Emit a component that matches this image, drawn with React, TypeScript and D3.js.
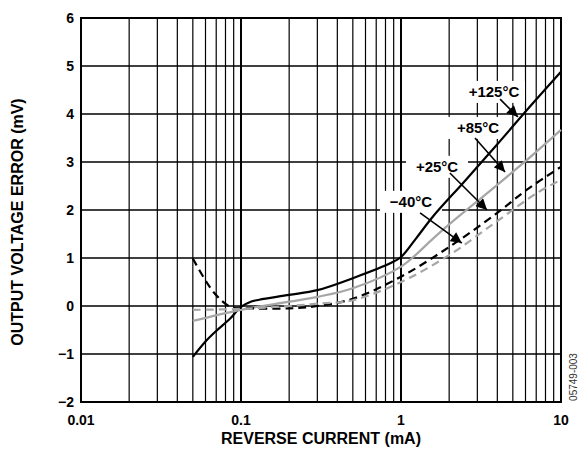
import * as d3 from 'd3';

// reverse current (mA) vs output voltage error (mV)
const xTicks = [0.01, 0.1, 1, 10];
const xTickLabels = ['0.01', '0.1', '1', '10'];
const yTicks = [-2, -1, 0, 1, 2, 3, 4, 5, 6];
const yTickLabels = ['\u22122', '\u22121', '0', '1', '2', '3', '4', '5', '6'];

const t125: [number, number][] = [
  [0.05, -1.06], [0.06, -0.74], [0.07, -0.52], [0.085, -0.27], [0.1, -0.02],
  [0.115, 0.09], [0.13, 0.13], [0.2, 0.23], [0.3, 0.33], [0.5, 0.58],
  [0.87, 0.9], [1.0, 1.02], [1.25, 1.42], [1.58, 1.86], [2.5, 2.6], [4, 3.37], [6.3, 4.13], [10, 4.88],
];
const t85: [number, number][] = [
  [0.05, -0.31], [0.1, -0.08], [0.2, 0.09], [0.3, 0.19], [0.5, 0.37],
  [1.0, 0.82], [1.58, 1.4], [2, 1.7], [3.6, 2.4], [5.82, 2.98], [10, 3.67],
];
const t25: [number, number][] = [
  [0.05, 0.99], [0.067, 0.3], [0.085, -0.01], [0.1, -0.04], [0.2, -0.05],
  [0.3, 0.0], [0.5, 0.15], [1.0, 0.61], [2, 1.23], [3.96, 1.93], [6.1, 2.42], [10, 2.9],
];
const tm40: [number, number][] = [
  [0.05, -0.08], [0.1, -0.06], [0.2, 0.0], [0.3, 0.05], [0.5, 0.12],
  [1.0, 0.5], [2, 1.06], [3.96, 1.76], [7.05, 2.35], [10, 2.63],
];

const series = [
  { name: '+125', data: t125, color: '#000', dash: null },
  { name: '+85', data: t85, color: '#a6a6a6', dash: null },
  { name: '+25', data: t25, color: '#000', dash: '8,5' },
  { name: '-40', data: tm40, color: '#a6a6a6', dash: '8,5' },
];

// label text, label centre, arrow start, arrow tip (data units)
const annotations = [
  { text: '+125\u00b0C', at: [3.81, 4.46], from: [4.16, 4.31], to: [5.38, 3.94] },
  { text: '+85\u00b0C', at: [3.03, 3.71], from: [2.9, 3.5], to: [4.47, 2.79] },
  { text: '+25\u00b0C', at: [1.68, 2.9], from: [2.02, 2.77], to: [3.45, 2.0] },
  { text: '\u221240\u00b0C', at: [1.155, 2.17], from: [1.315, 1.94], to: [2.4, 1.31] },
];

const W = 579;
const H = 452;
const M = { left: 81, right: 18, top: 18, bottom: 50 };

export default function App() {
  const x = d3.scaleLog().domain([0.01, 10]).range([M.left, W - M.right]);
  const y = d3.scaleLinear().domain([-2, 6]).range([H - M.bottom, M.top]);

  const minor: number[] = [];
  [0.01, 0.1, 1].forEach((d) => {
    for (let k = 2; k <= 9; k++) minor.push(d * k);
  });

  const line = d3
    .line<[number, number]>()
    .x((d) => x(d[0]))
    .y((d) => y(d[1]))
    .curve(d3.curveCatmullRom.alpha(0.5));

  const font = 'Liberation Sans, Arial, Helvetica, sans-serif';

  return (
    <svg width={W} height={H} style={{ position: 'absolute', left: 0, top: 0, background: '#fff' }} fontFamily={font}>
      <defs>
        <marker id="arr" viewBox="0 0 10 10" refX="10" refY="5" markerWidth="12" markerHeight="11" markerUnits="userSpaceOnUse" orient="auto">
          <path d="M0,0 L10,5 L0,10 z" fill="#000" />
        </marker>
      </defs>

      {/* grid */}
      {minor.map((d) => (
        <line key={'v' + d} x1={x(d)} x2={x(d)} y1={y(-2)} y2={y(6)} stroke="#000" strokeWidth={1.2} />
      ))}
      {xTicks.map((d) => (
        <line key={'vd' + d} x1={x(d)} x2={x(d)} y1={y(-2)} y2={y(6)} stroke="#000" strokeWidth={2} />
      ))}
      {yTicks.map((d) => (
        <line key={'h' + d} x1={x(0.01)} x2={x(10)} y1={y(d)} y2={y(d)} stroke="#000" strokeWidth={1.3} />
      ))}
      <rect x={x(0.01)} y={y(6)} width={x(10) - x(0.01)} height={y(-2) - y(6)} fill="none" stroke="#000" strokeWidth={2} />

      {/* label backgrounds cut the grid */}
      {annotations.map((a) => (
        <rect key={'bg' + a.text} x={x(a.at[0]) - 31} y={y(a.at[1]) - 11} width={62} height={22} fill="#fff" />
      ))}

      {/* curves */}
      {series.map((s) => (
        <path key={s.name} d={line(s.data) || ''} fill="none" stroke={s.color} strokeWidth={2.2} strokeDasharray={s.dash || undefined} />
      ))}

      {/* annotations */}
      {annotations.map((a) => (
        <g key={a.text}>
          <line x1={x(a.from[0])} y1={y(a.from[1])} x2={x(a.to[0])} y2={y(a.to[1])} stroke="#000" strokeWidth={1.6} markerEnd="url(#arr)" />
          <text x={x(a.at[0])} y={y(a.at[1]) + 5.5} textAnchor="middle" fontWeight="bold" fontSize={15}>
            {a.text}
          </text>
        </g>
      ))}

      {/* tick labels */}
      {yTicks.map((d, i) => (
        <text key={'yt' + d} x={M.left - 7} y={y(d) + 5} textAnchor="end" fontWeight="bold" fontSize={14}>
          {yTickLabels[i]}
        </text>
      ))}
      {xTicks.map((d, i) => (
        <text key={'xt' + d} x={x(d)} y={425} textAnchor="middle" fontWeight="bold" fontSize={14}>
          {xTickLabels[i]}
        </text>
      ))}

      <text x={(x(0.01) + x(10)) / 2} y={444} textAnchor="middle" fontWeight="bold" fontSize={16}>
        REVERSE CURRENT (mA)
      </text>
      <text transform={`translate(23, 222) rotate(-90)`} textAnchor="middle" fontWeight="bold" fontSize={16}>
        OUTPUT VOLTAGE ERROR (mV)
      </text>
      <text transform={`translate(577, 377) rotate(-90)`} textAnchor="middle" fontSize={10} fill="#333">
        05749-003
      </text>
    </svg>
  );
}
